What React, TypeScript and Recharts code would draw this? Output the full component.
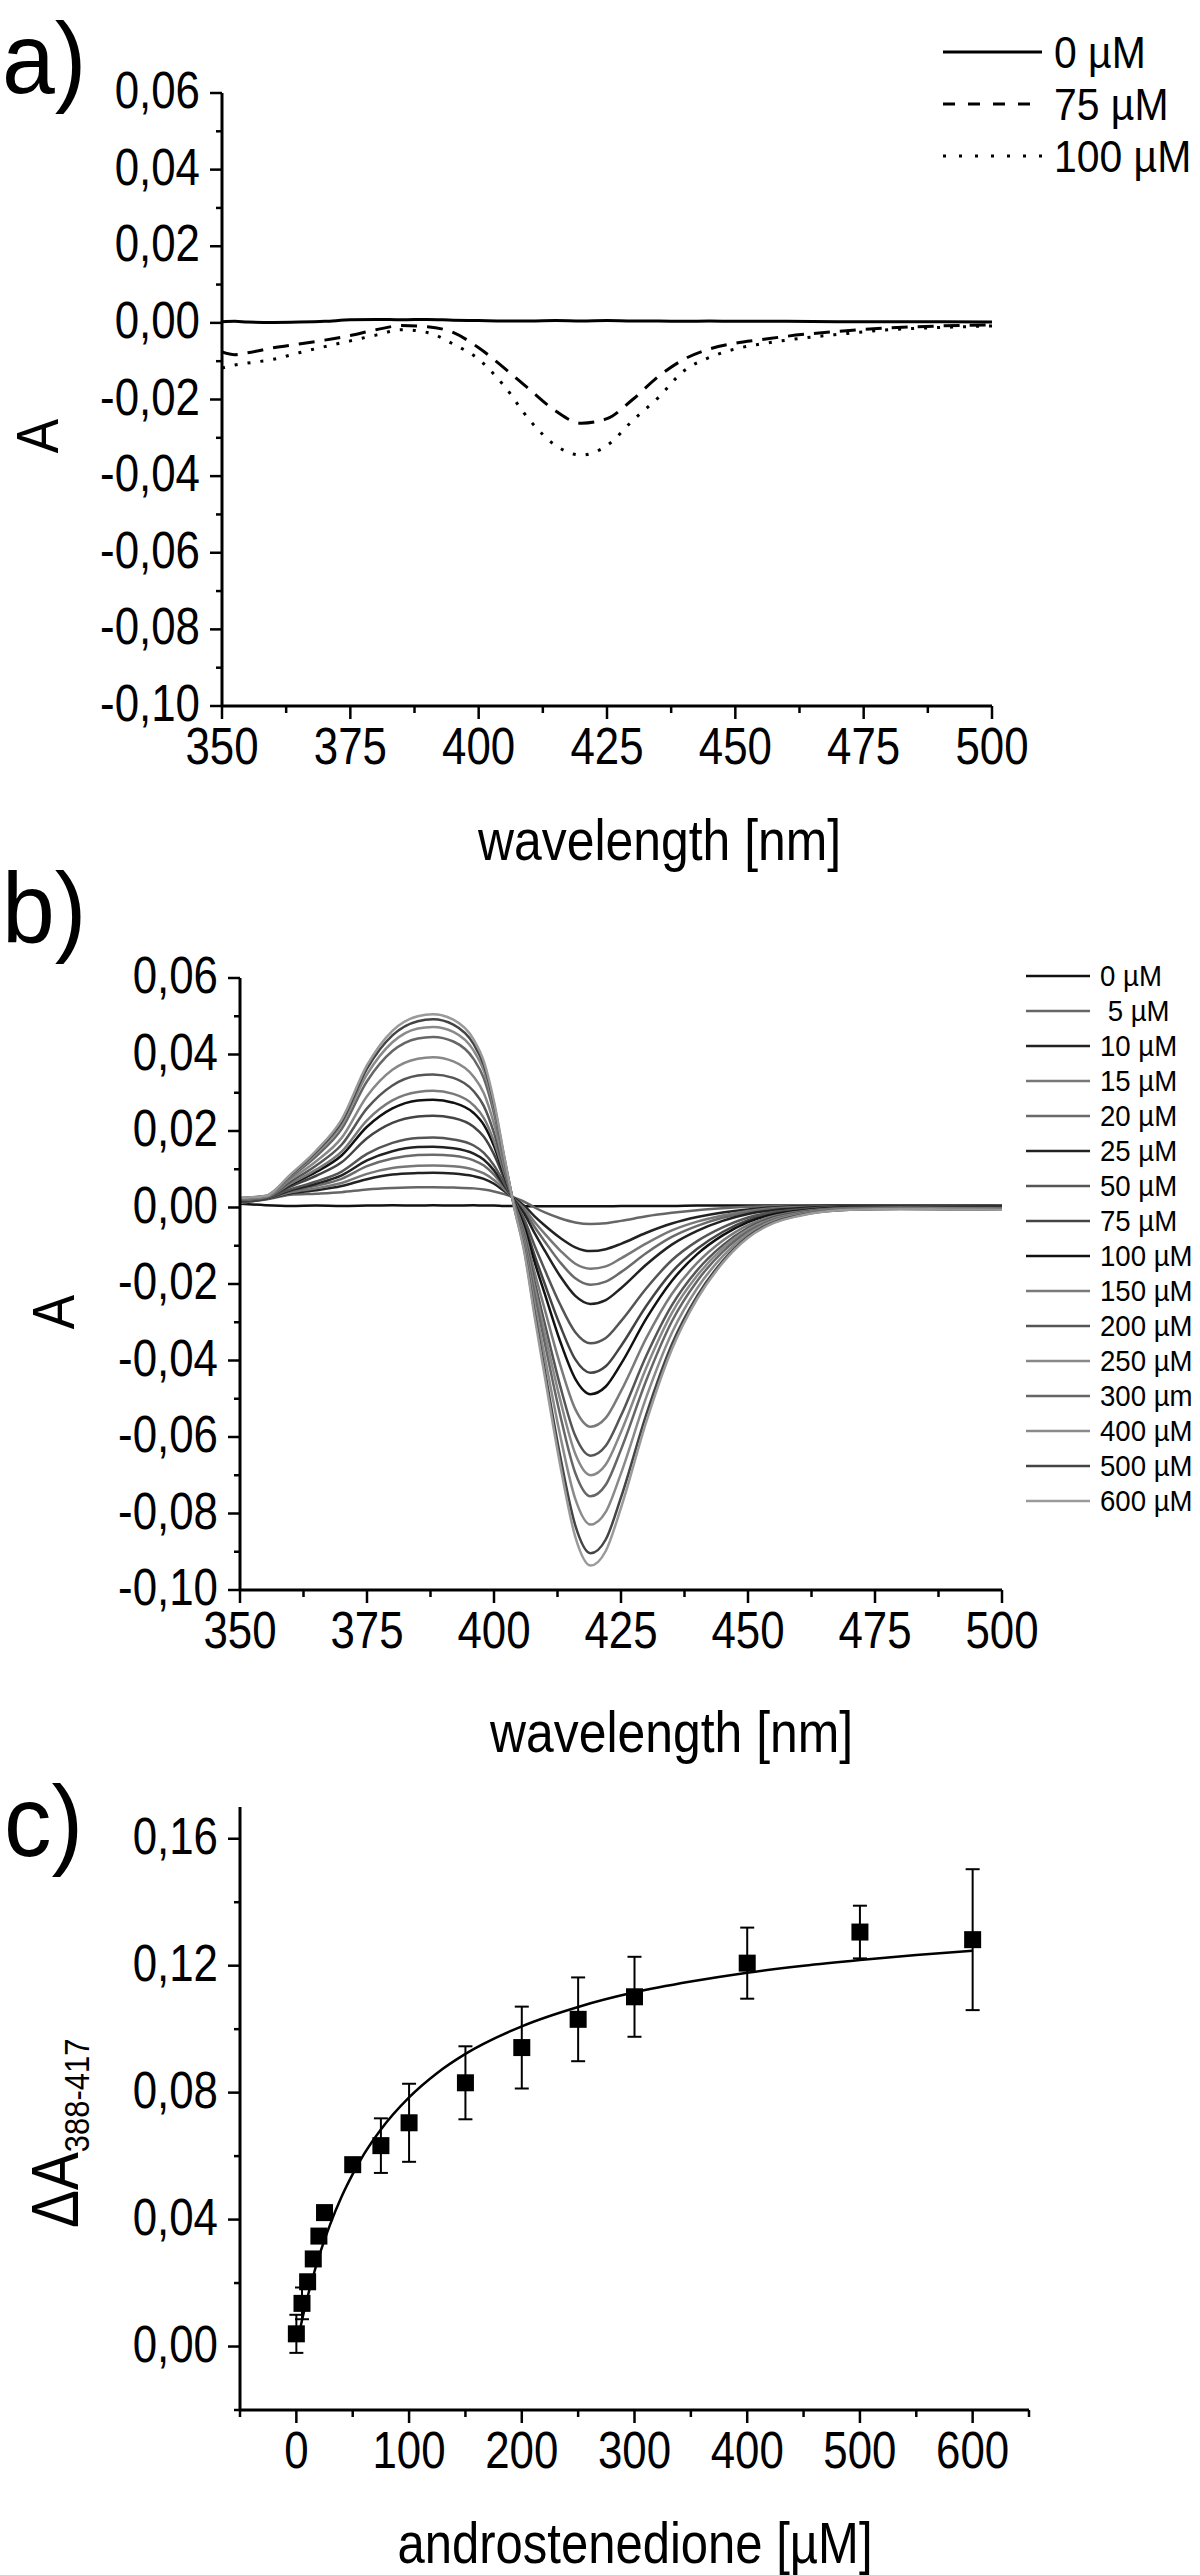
import React from 'react';
import { LineChart, Line, XAxis, YAxis, ComposedChart, Scatter, ErrorBar } from 'recharts';

const FONT = '"Liberation Sans", Arial, Helvetica, sans-serif';
const SX = 0.86; // condensed text look of the original

// ---------------- Panel a ----------------
const wavelengthA = [350, 352.5, 355, 360, 365, 370, 375, 380, 385, 390, 395, 400, 405, 410, 415, 420, 425, 430, 435, 440, 445, 450, 455, 460, 470, 480, 490, 500];
const specA_0uM = [0.0003, 0.0004, 0.0002, 0.0001, 0.0002, 0.0004, 0.0008, 0.0009, 0.0008, 0.0009, 0.0007, 0.0006, 0.0005, 0.0005, 0.0006, 0.0005, 0.0006, 0.0005, 0.0005, 0.0004, 0.0005, 0.0004, 0.0004, 0.0004, 0.0003, 0.0003, 0.0003, 0.0002];
const specA_75uM = [-0.0076, -0.0083, -0.0078, -0.0065, -0.0055, -0.0045, -0.0033, -0.0018, -0.0007, -0.001, -0.0025, -0.0065, -0.0118, -0.0175, -0.023, -0.0262, -0.025, -0.02, -0.014, -0.0095, -0.0068, -0.0053, -0.0044, -0.0035, -0.0022, -0.0013, -0.0008, -0.0005];
const specA_100uM = [-0.0118, -0.011, -0.0105, -0.0095, -0.0078, -0.0062, -0.0047, -0.0032, -0.0018, -0.0025, -0.0055, -0.0095, -0.0165, -0.0255, -0.032, -0.0345, -0.032, -0.0255, -0.0195, -0.0125, -0.009, -0.0068, -0.0055, -0.0045, -0.003, -0.0018, -0.0012, -0.0008];
const legendALabels = ['0 µM', '75 µM', '100 µM'];

const specXMajor = [350, 375, 400, 425, 450, 475, 500];
const specXMinor = [362.5, 387.5, 412.5, 437.5, 462.5, 487.5];
const specYMajor = [-0.1, -0.08, -0.06, -0.04, -0.02, 0, 0.02, 0.04, 0.06];
const specYMinor = [-0.09, -0.07, -0.05, -0.03, -0.01, 0.01, 0.03, 0.05];

// ---------------- Panel b ----------------
const wavelengthB = [350, 355, 360, 365, 370, 375, 380, 385, 388, 392, 396, 398, 400, 402, 404, 406, 408, 410, 413, 416, 419, 422, 425, 430, 435, 440, 445, 450, 455, 460, 470, 480, 490, 500];
const b0 = [0.001, 0.0006, 0.0004, 0.0005, 0.0004, 0.0005, 0.0006, 0.0005, 0.0006, 0.0005, 0.0006, 0.0005, 0.0005, 0.0004, 0.0004, 0.0003, 0.0003, 0.0003, 0.0003, 0.0003, 0.0003, 0.0003, 0.0004, 0.0004, 0.0004, 0.0005, 0.0005, 0.0005, 0.0005, 0.0005, 0.0005, 0.0005, 0.0005, 0.0005];
const b5 = [0.0012, 0.0021, 0.0033, 0.0036, 0.004, 0.0047, 0.0051, 0.0053, 0.0053, 0.0052, 0.005, 0.0047, 0.0042, 0.0035, 0.0026, 0.0015, 0.0, -0.0013, -0.0028, -0.0039, -0.0043, -0.0041, -0.0035, -0.0023, -0.0014, -0.0007, -0.0002, 0.0002, 0.0004, 0.0005, 0.0005, 0.0006, 0.0005, 0.0005];
const b10 = [0.0013, 0.0022, 0.0037, 0.0045, 0.0056, 0.0074, 0.0086, 0.009, 0.0091, 0.0089, 0.0082, 0.0075, 0.0062, 0.0043, 0.0024, 0.0004, -0.0023, -0.0047, -0.0079, -0.0104, -0.0114, -0.0109, -0.0095, -0.0066, -0.0042, -0.0025, -0.0013, -0.0005, 0.0, 0.0003, 0.0005, 0.0005, 0.0005, 0.0004];
const b15 = [0.0013, 0.0022, 0.004, 0.005, 0.0064, 0.0088, 0.0103, 0.0109, 0.011, 0.0108, 0.0099, 0.0089, 0.0072, 0.0048, 0.0022, -0.0003, -0.0038, -0.0069, -0.0112, -0.0147, -0.016, -0.0154, -0.0133, -0.0094, -0.006, -0.0037, -0.0021, -0.0009, -0.0002, 0.0001, 0.0004, 0.0004, 0.0004, 0.0004];
const b20 = [0.0014, 0.0023, 0.0043, 0.0057, 0.0075, 0.0108, 0.0128, 0.0137, 0.0138, 0.0135, 0.0123, 0.011, 0.0086, 0.0054, 0.0021, -0.0009, -0.0051, -0.0089, -0.0143, -0.0185, -0.0202, -0.0194, -0.0169, -0.0119, -0.0077, -0.0048, -0.0027, -0.0013, -0.0004, 0.0, 0.0003, 0.0004, 0.0004, 0.0003];
const b25 = [0.0015, 0.0023, 0.0045, 0.0062, 0.0084, 0.0123, 0.0147, 0.0158, 0.0159, 0.0155, 0.0141, 0.0125, 0.0097, 0.0058, 0.002, -0.0017, -0.0067, -0.0113, -0.0179, -0.0231, -0.0252, -0.0242, -0.0211, -0.0149, -0.0097, -0.0061, -0.0035, -0.0017, -0.0007, -0.0002, 0.0003, 0.0003, 0.0003, 0.0003];
const b50 = [0.0016, 0.0024, 0.0048, 0.0068, 0.0094, 0.014, 0.0169, 0.0182, 0.0183, 0.0178, 0.0162, 0.0143, 0.011, 0.0064, 0.0017, -0.0032, -0.01, -0.0163, -0.0253, -0.0326, -0.0355, -0.0341, -0.0297, -0.0211, -0.0138, -0.0088, -0.0052, -0.0026, -0.0012, -0.0005, 0.0001, 0.0002, 0.0002, 0.0001];
const b75 = [0.0017, 0.0025, 0.0055, 0.0083, 0.0118, 0.0181, 0.0221, 0.0238, 0.024, 0.0234, 0.0211, 0.0185, 0.0139, 0.0076, 0.0014, -0.0044, -0.0125, -0.02, -0.0308, -0.0397, -0.0432, -0.0415, -0.0362, -0.0257, -0.0169, -0.0108, -0.0064, -0.0033, -0.0016, -0.0007, 0.0, 0.0001, 0.0001, 0.0];
const b100 = [0.0018, 0.0026, 0.006, 0.0093, 0.0136, 0.0211, 0.0259, 0.028, 0.0282, 0.0274, 0.0247, 0.0216, 0.0161, 0.0085, 0.0013, -0.0052, -0.0143, -0.0226, -0.0349, -0.0448, -0.0488, -0.0468, -0.0409, -0.029, -0.0192, -0.0122, -0.0073, -0.0038, -0.0018, -0.0009, 0.0, 0.0001, 0.0, 0.0];
const b150 = [0.0019, 0.0026, 0.0063, 0.0099, 0.0146, 0.0228, 0.028, 0.0302, 0.0305, 0.0297, 0.0267, 0.0234, 0.0173, 0.0091, 0.001, -0.0065, -0.017, -0.0267, -0.041, -0.0527, -0.0573, -0.055, -0.048, -0.0341, -0.0226, -0.0145, -0.0087, -0.0046, -0.0023, -0.0011, -0.0001, 0.0, -0.0001, -0.0001];
const b200 = [0.002, 0.0027, 0.0068, 0.011, 0.0164, 0.0259, 0.0319, 0.0345, 0.0348, 0.0339, 0.0304, 0.0265, 0.0195, 0.01, 0.0008, -0.0076, -0.0194, -0.0304, -0.0465, -0.0597, -0.0649, -0.0623, -0.0544, -0.0387, -0.0256, -0.0164, -0.0099, -0.0053, -0.0026, -0.0013, -0.0002, -0.0001, -0.0002, -0.0002];
const b250 = [0.0022, 0.0028, 0.0074, 0.0121, 0.0182, 0.0291, 0.036, 0.0389, 0.0393, 0.0382, 0.0342, 0.0299, 0.0219, 0.011, 0.0006, -0.0084, -0.021, -0.0328, -0.0501, -0.0644, -0.07, -0.0672, -0.0587, -0.0418, -0.0276, -0.0178, -0.0107, -0.0058, -0.0029, -0.0015, -0.0003, -0.0002, -0.0002, -0.0003];
const b300 = [0.0023, 0.0029, 0.008, 0.0134, 0.0205, 0.033, 0.0409, 0.0442, 0.0446, 0.0434, 0.0388, 0.0338, 0.0246, 0.0122, 0.0005, -0.0092, -0.0228, -0.0355, -0.0541, -0.0694, -0.0755, -0.0725, -0.0633, -0.0451, -0.0298, -0.0192, -0.0116, -0.0063, -0.0032, -0.0017, -0.0004, -0.0002, -0.0003, -0.0004];
const b400 = [0.0024, 0.0029, 0.0083, 0.0141, 0.0216, 0.0348, 0.0432, 0.0468, 0.0472, 0.0459, 0.041, 0.0357, 0.026, 0.0127, 0.0002, -0.0103, -0.0252, -0.039, -0.0594, -0.0762, -0.0829, -0.0796, -0.0695, -0.0495, -0.0328, -0.0211, -0.0128, -0.0069, -0.0035, -0.0019, -0.0005, -0.0003, -0.0004, -0.0005];
const b500 = [0.0025, 0.003, 0.0085, 0.0146, 0.0224, 0.0363, 0.045, 0.0487, 0.0492, 0.0478, 0.0427, 0.0372, 0.027, 0.0132, 0.0, -0.0114, -0.0276, -0.0426, -0.0648, -0.0831, -0.0904, -0.0868, -0.0758, -0.054, -0.0358, -0.0231, -0.014, -0.0076, -0.0039, -0.0021, -0.0006, -0.0004, -0.0005, -0.0006];
const b600 = [0.0025, 0.003, 0.0087, 0.0149, 0.023, 0.0372, 0.0462, 0.05, 0.0505, 0.0491, 0.0439, 0.0382, 0.0277, 0.0135, -0.0001, -0.0119, -0.0286, -0.0442, -0.0671, -0.0861, -0.0936, -0.0898, -0.0785, -0.0559, -0.0371, -0.0239, -0.0145, -0.0079, -0.0041, -0.0022, -0.0006, -0.0004, -0.0005, -0.0006];
const seriesB = [b0, b5, b10, b15, b20, b25, b50, b75, b100, b150, b200, b250, b300, b400, b500, b600];
const legendBLabels = ['0 µM', ' 5 µM', '10 µM', '15 µM', '20 µM', '25 µM', '50 µM', '75 µM', '100 µM', '150 µM', '200 µM', '250 µM', '300 µm', '400 µM', '500 µM', '600 µM'];
const colorsB = ['#111111', '#666666', '#222222', '#777777', '#6a6a6a', '#222222', '#555555', '#444444', '#111111', '#7a7a7a', '#555555', '#888888', '#666666', '#8a8a8a', '#444444', '#9a9a9a'];

// ---------------- Panel c ----------------
const concC = [0, 5, 10, 15, 20, 25, 50, 75, 100, 150, 200, 250, 300, 400, 500, 600];
const deltaA = [0.004, 0.0136, 0.0204, 0.0276, 0.0348, 0.0422, 0.0573, 0.0633, 0.0705, 0.0831, 0.0942, 0.1031, 0.1102, 0.1208, 0.1306, 0.1282];
const deltaAErr = [0.006, 0.005, 0.002, 0.002, 0.002, 0.002, 0.002, 0.0086, 0.0123, 0.0115, 0.0129, 0.0132, 0.0126, 0.0112, 0.0083, 0.0222];
const fitConc = [2, 5, 10, 15, 20, 25, 30, 40, 50, 60, 75, 100, 125, 150, 200, 250, 300, 350, 400, 450, 500, 550, 600];
const fitDeltaA = [0.0034, 0.0083, 0.0157, 0.0223, 0.0283, 0.0336, 0.0385, 0.0471, 0.0543, 0.0606, 0.0684, 0.0785, 0.0862, 0.0922, 0.1009, 0.107, 0.1116, 0.115, 0.1178, 0.12, 0.1218, 0.1234, 0.1247];
const cXMajor = [0, 100, 200, 300, 400, 500, 600];
const cXMinor = [-50, 50, 150, 250, 350, 450, 550, 650];
const cYMajor = [0, 0.04, 0.08, 0.12, 0.16];
const cYMinor = [-0.02, 0.02, 0.06, 0.1, 0.14];

// ---------------- derived tables ----------------
const rowsA = wavelengthA.map((wl, i) => ({ wl, s0: specA_0uM[i], s75: specA_75uM[i], s100: specA_100uM[i] }));
const rowsB = wavelengthB.map((wl, i) => {
  const r: any = { wl };
  seriesB.forEach((s, k) => { r['s' + k] = s[i]; });
  return r;
});
const rowsC = concC.map((x, i) => ({ x, y: deltaA[i], err: deltaAErr[i] }));
const rowsFit = fitConc.map((x, i) => ({ x, fit: fitDeltaA[i] }));

const sortNum = (a: number[]) => [...a].sort((p, q) => p - q);
const isIn = (arr: number[], v: number) => arr.some((m) => Math.abs(m - v) < 1e-9);
const commaFmt = (v: number) => v.toFixed(2).replace('.', ',').replace('-0,00', '0,00');
const intFmt = (v: number) => String(Math.round(v));

const CText = ({ x, y, size, anchor = 'start', rotate = 0, sx = SX, children, style }: any) => (
  <text
    transform={`translate(${x},${y})${rotate ? ` rotate(${rotate})` : ''} scale(${sx},1)`}
    fontSize={size}
    textAnchor={anchor}
    fontFamily={FONT}
    fill="#000"
    style={style}
  >
    {children}
  </text>
);

const makeBottomTick = (majors: number[], fmt: (v: number) => string) => (props: any) => {
  const { x, y, payload } = props;
  const major = isIn(majors, payload.value);
  return (
    <g>
      <line x1={x} x2={x} y1={y} y2={y + (major ? 13 : 7)} stroke="#000" strokeWidth={2.5} />
      {major ? <CText x={x} y={y + 58} size={51} anchor="middle">{fmt(payload.value)}</CText> : null}
    </g>
  );
};

const makeLeftTick = (majors: number[], fmt: (v: number) => string) => (props: any) => {
  const { x, y, payload } = props;
  const major = isIn(majors, payload.value);
  return (
    <g>
      <line x1={x - (major ? 12 : 6)} x2={x} y1={y} y2={y} stroke="#000" strokeWidth={2.5} />
      {major ? <CText x={x - 22} y={y + 15} size={51} anchor="end">{fmt(payload.value)}</CText> : null}
    </g>
  );
};

const specXTick = makeBottomTick(specXMajor, intFmt);
const specYTick = makeLeftTick(specYMajor, commaFmt);
const cXTick = makeBottomTick(cXMajor, intFmt);
const cYTick = makeLeftTick(cYMajor, commaFmt);

const axisLineStyle = { stroke: '#000', strokeWidth: 3 };

const Square = (props: any) => {
  const { cx, cy } = props;
  if (cx == null || cy == null) return null;
  return <rect x={cx - 8.5} y={cy - 8.5} width={17} height={17} fill="#000" />;
};

const PanelA = () => (
  <LineChart width={1200} height={800} data={rowsA} margin={{ top: 93, right: 208, bottom: 54, left: 122 }}>
    <XAxis dataKey="wl" type="number" domain={[350, 500]} ticks={sortNum([...specXMajor, ...specXMinor])} interval={0}
      tick={specXTick} tickLine={false} tickSize={0} tickMargin={0} axisLine={axisLineStyle} height={40} allowDataOverflow />
    <YAxis type="number" domain={[-0.1, 0.06]} ticks={sortNum([...specYMajor, ...specYMinor])} interval={0}
      tick={specYTick} tickLine={false} tickSize={0} tickMargin={0} axisLine={axisLineStyle} width={100} allowDataOverflow />
    <Line type="monotone" dataKey="s0" stroke="#000" strokeWidth={3} dot={false} isAnimationActive={false} />
    <Line type="monotone" dataKey="s75" stroke="#000" strokeWidth={3} strokeDasharray="16 10" dot={false} isAnimationActive={false} />
    <Line type="monotone" dataKey="s100" stroke="#000" strokeWidth={3} strokeDasharray="3 10" dot={false} isAnimationActive={false} />
  </LineChart>
);

const PanelB = () => (
  <LineChart width={1200} height={760} data={rowsB} margin={{ top: 78, right: 198, bottom: 30, left: 140 }}>
    <XAxis dataKey="wl" type="number" domain={[350, 500]} ticks={sortNum([...specXMajor, ...specXMinor])} interval={0}
      tick={specXTick} tickLine={false} tickSize={0} tickMargin={0} axisLine={axisLineStyle} height={40} allowDataOverflow />
    <YAxis type="number" domain={[-0.1, 0.06]} ticks={sortNum([...specYMajor, ...specYMinor])} interval={0}
      tick={specYTick} tickLine={false} tickSize={0} tickMargin={0} axisLine={axisLineStyle} width={100} allowDataOverflow />
    {seriesB.map((_, k) => (
      <Line key={k} type="monotone" dataKey={'s' + k} stroke={colorsB[k]} strokeWidth={2.5} dot={false} isAnimationActive={false} />
    ))}
  </LineChart>
);

const PanelC = () => (
  <ComposedChart width={1200} height={800} margin={{ top: 47, right: 171, bottom: 110, left: 140 }}>
    <XAxis dataKey="x" type="number" domain={[-50, 650]} ticks={sortNum([...cXMajor, ...cXMinor])} interval={0}
      tick={cXTick} tickLine={false} tickSize={0} tickMargin={0} axisLine={axisLineStyle} height={40} allowDataOverflow />
    <YAxis type="number" domain={[-0.02, 0.17]} ticks={sortNum([...cYMajor, ...cYMinor])} interval={0}
      tick={cYTick} tickLine={false} tickSize={0} tickMargin={0} axisLine={axisLineStyle} width={100} allowDataOverflow />
    <Line data={rowsFit} type="monotone" dataKey="fit" stroke="#000" strokeWidth={2.5} dot={false} isAnimationActive={false} />
    <Scatter data={rowsC} dataKey="y" shape={Square} fill="#000" isAnimationActive={false}>
      <ErrorBar dataKey="err" direction="y" width={7} stroke="#000" strokeWidth={2} />
    </Scatter>
  </ComposedChart>
);

const Overlay = () => (
  <svg width={1200} height={2575} style={{ position: 'absolute', left: 0, top: 0, pointerEvents: 'none' }}>
    {/* panel labels */}
    <CText x={2} y={93} size={100} sx={0.95}>a)</CText>
    <CText x={2} y={943} size={100} sx={0.95}>b)</CText>
    <CText x={4} y={1856} size={100} sx={0.95}>c)</CText>

    {/* panel a titles */}
    <CText x={58} y={436} size={60} anchor="middle" rotate={-90}>A</CText>
    <CText x={478} y={860} size={58}>wavelength [nm]</CText>

    {/* panel a legend */}
    {legendALabels.map((lab, i) => {
      const y = 52 + i * 52;
      const dash = i === 0 ? undefined : i === 1 ? '12 13' : '3 13';
      return (
        <g key={lab}>
          <line x1={943} x2={1042} y1={y} y2={y} stroke="#000" strokeWidth={3} strokeDasharray={dash} />
          <CText x={1054} y={y + 16} size={44} sx={0.93}>{lab}</CText>
        </g>
      );
    })}

    {/* panel b titles */}
    <CText x={74} y={1312} size={60} anchor="middle" rotate={-90}>A</CText>
    <CText x={490} y={1752} size={58}>wavelength [nm]</CText>

    {/* panel b legend */}
    {legendBLabels.map((lab, i) => {
      const y = 976 + i * 35;
      return (
        <g key={i}>
          <line x1={1026} x2={1090} y1={y} y2={y} stroke={colorsB[i]} strokeWidth={2.5} />
          <CText x={1100} y={y + 10} size={30} sx={0.92} style={{ whiteSpace: 'pre' }}>{lab}</CText>
        </g>
      );
    })}

    {/* panel c titles */}
    <CText x={78} y={2228} size={66} rotate={-90}>
      ΔA<tspan fontSize={36} dy={11}>388-417</tspan>
    </CText>
    <CText x={635} y={2563} size={57} anchor="middle">androstenedione [µM]</CText>
  </svg>
);

export default function App() {
  return (
    <div style={{ position: 'absolute', left: 0, top: 0, width: 1200, height: 2575, background: '#fff', fontFamily: FONT }}>
      <div style={{ position: 'absolute', left: 0, top: 0 }}><PanelA /></div>
      <div style={{ position: 'absolute', left: 0, top: 900 }}><PanelB /></div>
      <div style={{ position: 'absolute', left: 0, top: 1760 }}><PanelC /></div>
      <Overlay />
    </div>
  );
}
